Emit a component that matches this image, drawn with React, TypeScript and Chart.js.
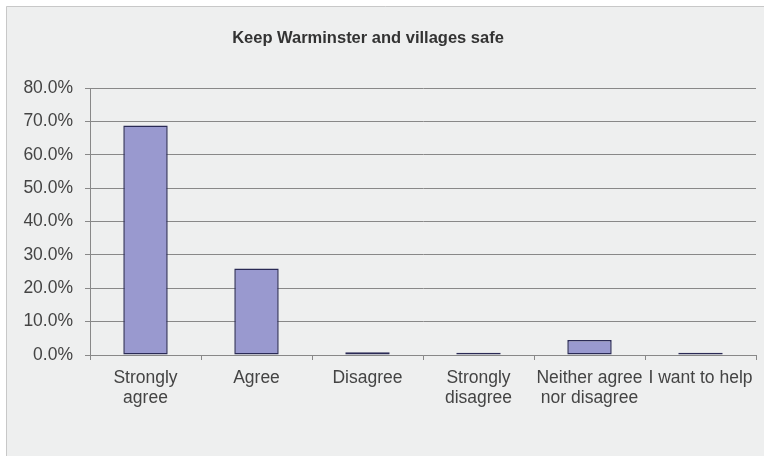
import React, { useEffect, useRef } from "react";
import { Chart, registerables } from "chart.js";

Chart.register(...registerables);

const categories: (string | string[])[] = [
  ["Strongly", "agree"],
  "Agree",
  "Disagree",
  ["Strongly", "disagree"],
  ["Neither agree", "nor disagree"],
  "I want to help",
];
const percentValues = [68.8, 25.9, 0.8, 0.7, 4.5, 0.7];
const yTicks = [0, 10, 20, 30, 40, 50, 60, 70, 80];
const titleText = "Keep Warminster and villages safe";

const FONT = "'Liberation Sans', Arial, sans-serif";

const bgPlugin = {
  id: "bgPlugin",
  beforeDraw(chart: any) {
    const ctx = chart.ctx;
    const w = chart.width;
    const h = chart.height;
    ctx.save();
    ctx.fillStyle = "#ffffff";
    ctx.fillRect(0, 0, w, h);
    ctx.fillStyle = "#eeefef";
    ctx.fillRect(6, 6, w - 6, h - 6);
    ctx.strokeStyle = "#c8c8c8";
    ctx.lineWidth = 1;
    ctx.beginPath();
    ctx.moveTo(6.5, h);
    ctx.lineTo(6.5, 6.5);
    ctx.lineTo(w, 6.5);
    ctx.stroke();
    ctx.restore();
  },
  afterDraw(chart: any) {
    const ctx = chart.ctx;
    ctx.save();
    ctx.fillStyle = "#333333";
    ctx.font = "bold 16.5px " + FONT;
    ctx.textAlign = "center";
    ctx.textBaseline = "middle";
    ctx.fillText(titleText, 368, 38);
    ctx.restore();
  },
};

export default function App() {
  const ref = useRef<HTMLCanvasElement | null>(null);
  useEffect(() => {
    document.body.style.margin = "0";
    const canvas = ref.current;
    if (!canvas) return;
    const chart = new Chart(canvas, {
      type: "bar",
      data: {
        labels: categories,
        datasets: [
          {
            data: percentValues,
            backgroundColor: "#9999cf",
            borderColor: "#2a2a55",
            borderWidth: 1.5,
            borderSkipped: false,
            barPercentage: 0.4,
            categoryPercentage: 1,
          },
        ],
      },
      options: {
        animation: false,
        responsive: false,
        maintainAspectRatio: false,
        layout: { padding: { top: 88, right: 8, left: 0, bottom: 0 } },
        plugins: {
          legend: { display: false },
          title: { display: false },
          tooltip: { enabled: false },
        },
        scales: {
          x: {
            offset: true,
            grid: {
              offset: true,
              drawOnChartArea: false,
              drawTicks: true,
              tickLength: 5,
              color: "#888888",
            },
            border: { display: true, color: "#888888" },
            ticks: {
              color: "#444444",
              font: { family: FONT, size: 17.5, lineHeight: 1.1 },
              padding: 9,
              maxRotation: 0,
              autoSkip: false,
            },
            afterFit(scale: any) {
              scale.height = 101;
            },
          },
          y: {
            min: 0,
            max: 80,
            afterBuildTicks(scale: any) {
              scale.ticks = yTicks.map((v) => ({ value: v }));
            },
            grid: {
              color: "#888888",
              lineWidth: 1,
              drawTicks: true,
              tickLength: 5,
            },
            border: { display: true, color: "#888888" },
            ticks: {
              color: "#444444",
              font: { family: FONT, size: 17.5 },
              padding: 12,
              callback: (v: any) => Number(v).toFixed(1) + "%",
            },
            afterFit(scale: any) {
              scale.width = 90;
            },
          },
        },
      },
      plugins: [bgPlugin],
    });
    return () => chart.destroy();
  }, []);
  return (
    <div style={{ width: 764, height: 456 }}>
      <canvas ref={ref} width={764} height={456} style={{ display: "block" }} />
    </div>
  );
}
